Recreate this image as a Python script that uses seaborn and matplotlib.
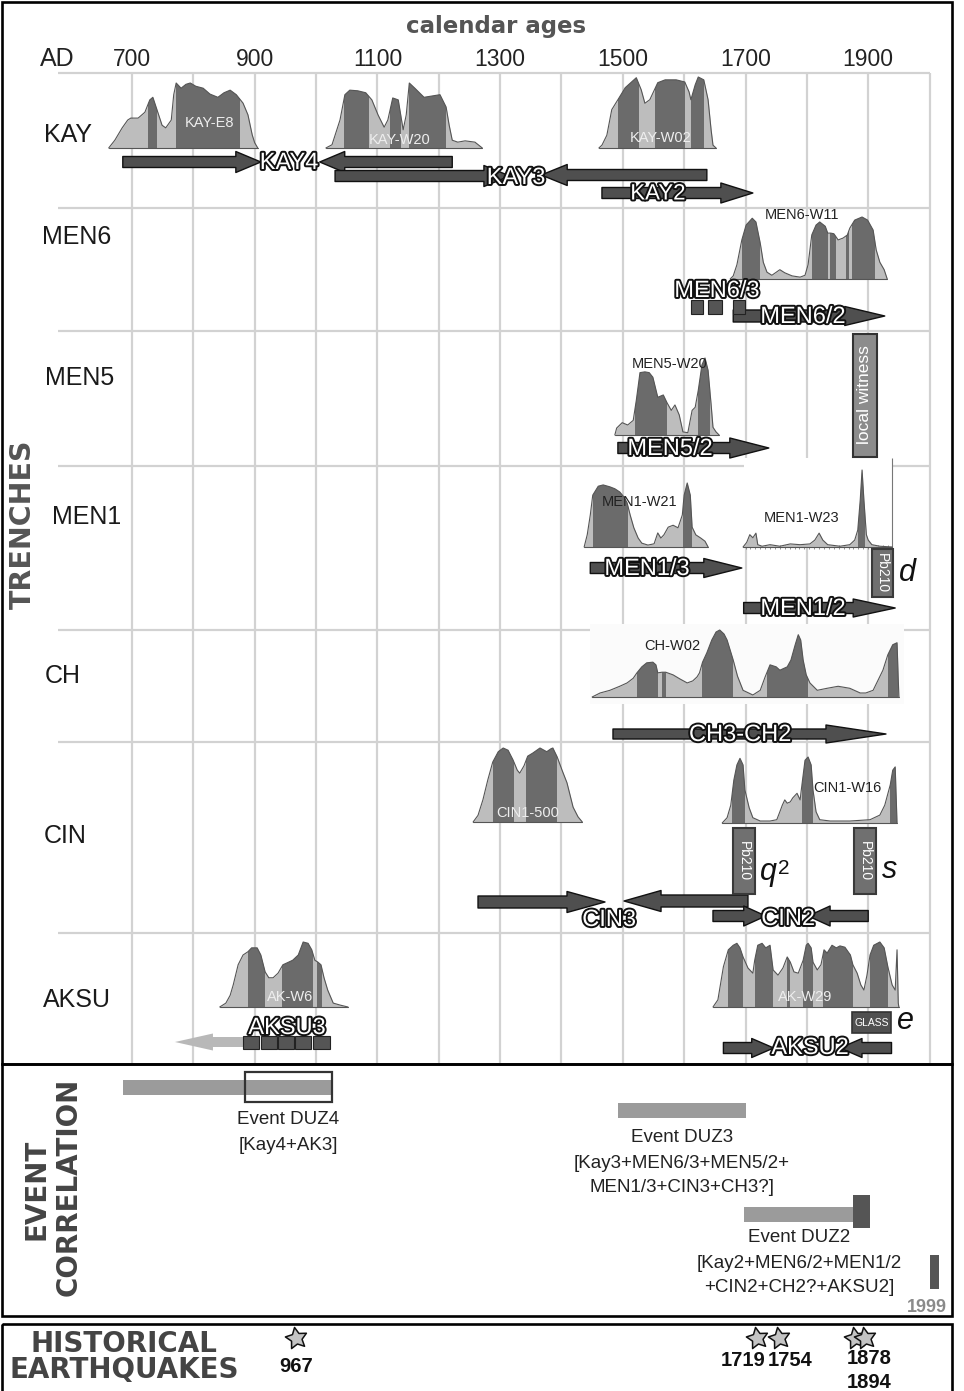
import numpy as np
import matplotlib
matplotlib.use("Agg")
import matplotlib.pyplot as plt
import matplotlib.patheffects as pe
from matplotlib.patches import Rectangle
import seaborn as sns

sns.set_theme(style="white")
plt.rcParams["font.family"] = ["Liberation Sans", "DejaVu Sans"]

# ------------------------------------------------------------------ data
tick_years = [700, 900, 1100, 1300, 1500, 1700, 1900]
grid_years = list(range(700, 2001, 100))
trench_names = ["KAY", "MEN6", "MEN5", "MEN1", "CH", "CIN", "AKSU"]

# calibrated radiocarbon ages: calendar year AD, relative probability (%), 1-sigma ranges
kay_e8_years = [662, 672, 684, 693, 698, 710, 721, 729, 734, 741, 749, 755, 764, 768, 772,
                780, 788, 795, 804, 816, 827, 840, 850, 860, 870, 881, 889, 896, 900, 905]
kay_e8_prob = [0, 12, 31, 43, 46, 46, 55, 74, 78, 58, 35, 31, 43, 82, 100,
               92, 98, 100, 95, 92, 83, 78, 85, 89, 82, 69, 51, 20, 8, 0]
kay_e8_sigma = [(726, 741), (772, 876)]

kay_w20_years = [1016, 1026, 1039, 1047, 1055, 1068, 1081, 1091, 1101, 1111, 1117, 1125, 1134, 1142,
                 1147, 1152, 1161, 1176, 1189, 1202, 1212, 1217, 1222, 1231, 1243, 1259, 1271]
kay_w20_prob = [0, 5, 43, 82, 89, 88, 85, 74, 51, 32, 43, 77, 74, 28,
                51, 100, 92, 78, 80, 82, 63, 35, 12, 9, 11, 9, 0]
kay_w20_sigma = [(1046, 1086), (1121, 1138), (1152, 1212)]

kay_w02_years = [1461, 1466, 1474, 1482, 1492, 1504, 1522, 1530, 1536, 1544, 1557, 1569,
                 1587, 1601, 1608, 1611, 1618, 1623, 1632, 1639, 1644, 1647, 1652]
kay_w02_prob = [0, 4, 18, 54, 68, 85, 99, 82, 63, 68, 92, 96,
                96, 93, 79, 68, 89, 100, 96, 68, 25, 4, 0]
kay_w02_sigma = [(1492, 1526), (1552, 1601), (1611, 1632)]

men6_w11_years = [1675, 1680, 1686, 1694, 1701, 1711, 1717, 1724, 1729, 1735, 1743, 1756,
                  1764, 1776, 1789, 1797, 1802, 1808, 1815, 1821, 1830, 1834, 1839, 1844,
                  1851, 1859, 1866, 1870, 1878, 1890, 1899, 1908, 1913, 1919, 1926, 1931]
men6_w11_prob = [0, 5, 23, 63, 87, 98, 92, 58, 27, 11, 6, 15,
                 10, 5, 3, 6, 23, 71, 87, 92, 85, 74, 74, 73,
                 63, 66, 71, 82, 95, 100, 95, 79, 47, 27, 15, 0]
men6_w11_sigma = [(1694, 1724), (1808, 1834), (1838, 1848), (1864, 1869), (1874, 1911)]

men5_w20_years = [1487, 1490, 1499, 1508, 1517, 1522, 1528, 1536, 1543, 1549, 1557, 1566, 1572, 1579,
                  1585, 1592, 1598, 1606, 1613, 1618, 1623, 1629, 1634, 1639, 1644, 1647, 1652, 1657]
men5_w20_prob = [0, 9, 16, 13, 19, 45, 81, 82, 81, 75, 49, 52, 42, 32,
                 39, 26, 4, 3, 32, 36, 58, 91, 100, 84, 39, 10, 4, 0]
men5_w20_sigma = [(1520, 1572), (1623, 1642)]

men1_w21_years = [1437, 1442, 1447, 1451, 1460, 1468, 1479, 1487, 1495, 1502, 1507, 1512, 1518, 1525,
                  1531, 1541, 1551, 1557, 1562, 1567, 1574, 1582, 1590, 1597, 1600, 1605, 1610, 1613,
                  1619, 1627, 1634, 1639]
men1_w21_prob = [0, 19, 50, 81, 95, 97, 94, 91, 86, 78, 69, 50, 30, 14,
                 6, 3, 5, 22, 14, 19, 31, 34, 30, 50, 81, 100, 81, 31,
                 19, 14, 9, 0]
men1_w21_sigma = [(1451, 1508), (1598, 1613)]

men1_w23_years = [1696, 1702, 1707, 1712, 1717, 1720, 1727, 1740, 1756, 1773, 1789, 1805, 1813, 1820,
                  1826, 1834, 1854, 1870, 1878, 1883, 1887, 1890, 1893, 1897, 1900, 1906, 1919, 1939]
men1_w23_prob = [0, 6, 16, 12, 18, 3, 1, 3, 1, 4, 3, 4, 9, 18,
                 9, 3, 1, 3, 9, 22, 61, 100, 61, 16, 9, 3, 1, 0]
men1_w23_sigma = [(1884, 1895)]

ch_w02_years = [1450, 1463, 1479, 1495, 1507, 1517, 1523, 1531, 1539, 1549, 1554, 1557, 1564, 1570,
                1582, 1593, 1605, 1614, 1621, 1625, 1630, 1637, 1645, 1652, 1658, 1665, 1670, 1675,
                1680, 1687, 1696, 1712, 1724, 1732, 1740, 1750, 1756, 1768, 1774, 1781, 1786, 1790,
                1794, 1799, 1805, 1817, 1833, 1851, 1870, 1887, 1896, 1908, 1916, 1924, 1932, 1940,
                1947, 1950]
ch_w02_prob = [0, 6, 10, 16, 21, 28, 36, 45, 51, 52, 48, 36, 37, 37,
               33, 27, 21, 24, 30, 36, 52, 66, 85, 97, 100, 94, 85, 70,
               55, 31, 10, 3, 10, 30, 48, 45, 40, 45, 55, 78, 93, 85,
               55, 33, 21, 10, 13, 16, 13, 6, 6, 10, 25, 40, 63, 78,
               81, 0]
ch_w02_sigma = [(1523, 1557), (1564, 1570), (1629, 1680), (1735, 1802), (1932, 1949)]

cin1_500_years = [1256, 1264, 1272, 1280, 1288, 1297, 1305, 1313, 1321, 1328, 1332, 1339,
                  1345, 1353, 1365, 1376, 1383, 1386, 1393, 1401, 1409, 1419, 1427, 1434]
cin1_500_prob = [0, 9, 30, 57, 81, 95, 100, 97, 84, 70, 66, 76,
                 89, 93, 100, 95, 99, 100, 88, 70, 53, 20, 7, 0]
cin1_500_sigma = [(1288, 1323), (1342, 1393)]

cin1_w16_years = [1662, 1670, 1676, 1681, 1686, 1691, 1696, 1699, 1706, 1712, 1724, 1740, 1751,
                  1756, 1760, 1764, 1768, 1773, 1777, 1784, 1789, 1792, 1797, 1802, 1807, 1810,
                  1815, 1821, 1838, 1870, 1903, 1919, 1927, 1936, 1940, 1944, 1947]
cin1_w16_prob = [0, 8, 27, 65, 88, 98, 88, 50, 23, 8, 3, 3, 5,
                 17, 27, 35, 30, 32, 38, 45, 35, 58, 95, 100, 88, 50,
                 17, 5, 3, 3, 5, 12, 27, 58, 80, 85, 0]
cin1_w16_sigma = [(1678, 1699), (1792, 1810), (1936, 1947)]

ak_w6_years = [843, 853, 860, 865, 873, 881, 889, 895, 904, 910, 917, 923, 930, 938, 946,
               953, 962, 971, 979, 987, 993, 998, 1003, 1008, 1013, 1019, 1028, 1039, 1052]
ak_w6_prob = [0, 6, 18, 34, 65, 80, 85, 91, 91, 80, 54, 45, 45, 52, 65,
              68, 72, 80, 100, 98, 88, 72, 69, 65, 45, 26, 6, 3, 0]
ak_w6_sigma = [(889, 917), (945, 995), (1002, 1010)]

ak_w29_years = [1647, 1655, 1664, 1672, 1680, 1686, 1691, 1696, 1704, 1712, 1715, 1720, 1727,
                1733, 1740, 1745, 1753, 1761, 1768, 1773, 1779, 1786, 1794, 1799, 1802, 1807,
                1810, 1817, 1823, 1828, 1833, 1841, 1848, 1854, 1862, 1871, 1875, 1882, 1888,
                1893, 1898, 1903, 1909, 1919, 1926, 1932, 1939, 1944, 1947, 1949, 1950]
ak_w29_prob = [0, 11, 62, 88, 95, 98, 91, 77, 60, 52, 72, 95, 98,
               91, 95, 57, 49, 60, 77, 69, 54, 52, 72, 95, 98, 91,
               69, 57, 65, 88, 83, 95, 91, 94, 92, 80, 65, 52, 34,
               26, 49, 80, 95, 100, 91, 62, 34, 26, 88, 6, 0]
ak_w29_sigma = [(1672, 1696), (1715, 1745), (1768, 1773), (1794, 1810), (1826, 1875), (1903, 1932)]

# colluvial-wedge / event-horizon age brackets (arrow tail year -> arrow tip year)
unit_names = ["KAY4", "KAY4", "KAY3", "KAY3", "KAY2", "MEN6/2", "MEN5/2", "MEN1/3", "MEN1/2",
              "CH3-CH2", "CIN3", "CIN3", "CIN2", "CIN2", "AKSU2", "AKSU2"]
unit_from = [685, 1222, 1031, 1637, 1466, 1680, 1492, 1447, 1697, 1484, 1264, 1704, 1647, 1900, 1664, 1938]
unit_to = [910, 1006, 1316, 1367, 1712, 1927, 1738, 1694, 1944, 1929, 1471, 1502, 1733, 1802, 1746, 1854]

men6_3_from = [1611, 1639, 1680]
men6_3_to = [1631, 1662, 1699]
aksu3_from = [881, 910, 938, 966, 995]
aksu3_to = [907, 936, 964, 992, 1022]
aksu3_open = (881, 770)

pb210_from = [1906, 1680, 1877]
pb210_to = [1940, 1716, 1913]
pb210_tags = ["d", "q", "s"]
witness_years = (1875, 1914)
glass_years = (1873, 1937)

event_names = ["DUZ4", "DUZ3", "DUZ2"]
event_from = [685, 1492, 1697]
event_to = [1026, 1701, 1877]
event_lines = [["Event DUZ4", "[Kay4+AK3]"],
               ["Event DUZ3", "[Kay3+MEN6/3+MEN5/2+", "MEN1/3+CIN3+CH3?]"],
               ["Event DUZ2", "[Kay2+MEN6/2+MEN1/2", "+CIN2+CH2?+AKSU2]"]]
duz4_box = (884, 1026)
duz2_limit = (1875, 1903)
event_1999 = 1999

quake_years = [967, 1719, 1754, 1878, 1894]

# ------------------------------------------------------------------ style / layout
LIGHT = "#bdbdbd"
DARK = "#6b6b6b"
EDGE = "#555555"
GRID = "#d2d2d2"
ARROW = "#4f4f4f"


def yr(px):
    """Horizontal pixel column of the sheet -> calendar year."""
    return 700 + (px - 132) / 0.6135


fig = plt.figure(figsize=(9.64, 13.91), dpi=100)
ax = fig.add_axes([0, 0, 1, 1])
ax.set_xlim(yr(0), yr(964))
ax.set_ylim(1391, 0)
ax.axis("off")

# grid of the trench panel
ax.vlines(grid_years, 73, 1063, colors=GRID, lw=1.6, zorder=1)
ax.hlines([73, 208, 331, 466, 630, 742, 933], yr(58), 2000, colors=GRID, lw=1.6, zorder=1)
# plot frames that hide the grid
ax.add_patch(Rectangle((yr(590), 624), yr(904) - yr(590), 80, fc="#fbfbfb", ec="none", zorder=2))
ax.add_patch(Rectangle((yr(744), 458), yr(892) - yr(744), 89, fc="white", ec="none", zorder=2))
ax.vlines(yr(892), 458, 547, colors="#777777", lw=0.8, zorder=3)
ax.vlines(np.arange(1700, 1940, 8), 545, 549, colors="#666666", lw=0.5, zorder=3)


def density(years, prob, sigma, base, height, label, lx, ly, lcolor):
    yrs = np.asarray(years, float)
    top = base - np.asarray(prob, float) / 100.0 * height
    light = ax.fill_between(yrs, base, top, color=LIGHT, lw=0, zorder=3)
    clip = light.get_paths()[0]
    for a, b in sigma:
        span = ax.axvspan(a, b, color=DARK, lw=0, zorder=3.1)
        span.set_clip_path(clip, ax.transData)
    sns.lineplot(x=yrs, y=top, ax=ax, color=EDGE, lw=0.8, sort=False,
                 estimator=None, legend=False, zorder=3.2)
    ax.plot([yrs[0], yrs[-1]], [base, base], color=EDGE, lw=0.8, zorder=3.2)
    ax.text(yr(lx), ly, label, ha="center", va="center", fontsize=10.5,
            color=lcolor, zorder=4)


density(kay_e8_years, kay_e8_prob, kay_e8_sigma, 148, 65, "KAY-E8", 209, 123, "#eeeeee")
density(kay_w20_years, kay_w20_prob, kay_w20_sigma, 148, 65, "KAY-W20", 400, 140, "#eeeeee")
density(kay_w02_years, kay_w02_prob, kay_w02_sigma, 148, 71, "KAY-W02", 661, 138, "#eeeeee")
density(men6_w11_years, men6_w11_prob, men6_w11_sigma, 279, 62, "MEN6-W11", 802, 215, "#222222")
density(men5_w20_years, men5_w20_prob, men5_w20_sigma, 435, 77, "MEN5-W20", 670, 364, "#222222")
density(men1_w21_years, men1_w21_prob, men1_w21_sigma, 547, 64, "MEN1-W21", 640, 502, "#222222")
density(men1_w23_years, men1_w23_prob, men1_w23_sigma, 547, 77, "MEN1-W23", 802, 518, "#222222")
density(ch_w02_years, ch_w02_prob, ch_w02_sigma, 697, 67, "CH-W02", 672, 646, "#222222")
density(cin1_500_years, cin1_500_prob, cin1_500_sigma, 822, 74, "CIN1-500", 528, 813, "#eeeeee")
density(cin1_w16_years, cin1_w16_prob, cin1_w16_sigma, 823, 66, "CIN1-W16", 847, 788, "#222222")
density(ak_w6_years, ak_w6_prob, ak_w6_sigma, 1007, 65, "AK-W6", 290, 997, "#eeeeee")
density(ak_w29_years, ak_w29_prob, ak_w29_sigma, 1007, 65, "AK-W29", 805, 997, "#eeeeee")

# ---- unit arrows
arrow_y = [162, 162, 176, 175, 193, 316, 448, 568, 608, 734, 902, 901, 916, 916, 1048, 1048]
arrow_head = [25, 25, 26, 26, 32, 40, 39, 38, 42, 60, 38, 37, 22, 22, 22, 22]
arrow_hw = [21, 21, 21, 21, 20, 19, 20, 19, 18, 18, 21, 21, 20, 20, 19, 19]
arrow_tw = [11, 11, 11, 11, 11, 12, 11, 11, 11, 10, 12, 12, 11, 11, 11, 11]


def block_arrow(x0, x1, y, hl, hw, tw, fc=ARROW, ec="#111111", lw=1.0, z=5):
    ax.annotate("", xy=(x1, y), xytext=(x0, y),
                arrowprops=dict(arrowstyle=f"simple,head_length={hl},head_width={hw},tail_width={tw}",
                                mutation_scale=0.72, fc=fc, ec=ec, lw=lw, shrinkA=0, shrinkB=0),
                zorder=z)


for x0, x1, y, hl, hw, tw in zip(unit_from, unit_to, arrow_y, arrow_head, arrow_hw, arrow_tw):
    block_arrow(x0, x1, y, hl, hw, tw)

# uncertain brackets drawn as chains of blocks
for a, b in zip(men6_3_from, men6_3_to):
    ax.add_patch(Rectangle((a, 300), b - a, 14, fc="#555555", ec="#222222", lw=0.8, zorder=5))
block_arrow(aksu3_open[0], aksu3_open[1], 1042, 38, 17, 10, fc="#b8b8b8", ec="none", lw=0, z=4)
for a, b in zip(aksu3_from, aksu3_to):
    ax.add_patch(Rectangle((a, 1036), b - a, 13, fc="#555555", ec="#222222", lw=0.8, zorder=5))

outline = [pe.withStroke(linewidth=2.8, foreground="#111111")]
unit_labels = [("KAY4", 289, 163, 17), ("KAY3", 516, 178, 17), ("KAY2", 658, 194, 16),
               ("MEN6/3", 717, 291, 17), ("MEN6/2", 803, 317, 17), ("MEN5/2", 670, 449, 17),
               ("MEN1/3", 647, 569, 17), ("MEN1/2", 803, 609, 17), ("CH3-CH2", 740, 735, 17),
               ("CIN3", 609, 920, 17), ("CIN2", 788, 919, 17), ("AKSU3", 287, 1028, 17),
               ("AKSU2", 810, 1048, 17)]
for s, x, y, fs in unit_labels:
    ax.text(yr(x), y, s, ha="center", va="center", fontsize=fs, color="white",
            path_effects=outline, zorder=6)

# ---- dated boxes
pb_rows = [(549, 597), (828, 894), (828, 894)]
for (a, b), (t, btm), tag in zip(zip(pb210_from, pb210_to), pb_rows, pb210_tags):
    ax.add_patch(Rectangle((a, t), b - a, btm - t, fc="#707070", ec="#3a3a3a", lw=1.5, zorder=5))
    ax.text((a + b) / 2, (t + btm) / 2, "Pb210", rotation=-90, ha="center", va="center",
            fontsize=10, color="white", zorder=6)
ax.text(yr(907), 573, "d", fontsize=22, style="italic", ha="center", va="center", color="#111111")
ax.text(yr(768), 872, "q", fontsize=22, style="italic", ha="center", va="center", color="#111111")
ax.text(yr(784), 869, "2", fontsize=15, ha="center", va="center", color="#111111")
ax.text(yr(890), 870, "s", fontsize=22, style="italic", ha="center", va="center", color="#111111")

a, b = witness_years
ax.add_patch(Rectangle((a, 334), b - a, 123, fc="#8c8c8c", ec="#333333", lw=1.5, zorder=5))
ax.text((a + b) / 2, 395, "local witness", rotation=90, ha="center", va="center",
        fontsize=12.5, color="white", zorder=6)

a, b = glass_years
ax.add_patch(Rectangle((a, 1012), b - a, 21, fc="#505050", ec="#333333", lw=1.2, zorder=5))
ax.text((a + b) / 2, 1023, "GLASS", ha="center", va="center", fontsize=7.5, color="white", zorder=6)
ax.text(yr(905), 1021, "e", fontsize=22, style="italic", ha="center", va="center", color="#111111")

# ---- axis labels
ax.text(yr(496), 27, "calendar ages", ha="center", va="center", fontsize=16.5,
        fontweight="bold", color="#555555", family="DejaVu Sans")
ax.text(yr(57), 59, "AD", ha="center", va="center", fontsize=18, color="#222222")
for t in tick_years:
    ax.text(t, 59, str(t), ha="center", va="center", fontsize=16.5, color="#222222")

row_pos = [(44, 135), (42, 237), (45, 378), (52, 517), (45, 676), (44, 836), (43, 1000)]
for name, (x, y) in zip(trench_names, row_pos):
    ax.text(yr(x), y, name, ha="left", va="center", fontsize=18, color="#1a1a1a")

ax.text(yr(23), 524, "TRENCHES", rotation=90, ha="center", va="center", fontsize=20.5,
        fontweight="bold", color="#555555", family="DejaVu Sans")

# ---- event correlation panel
event_y = [1087, 1110, 1214]
for a, b, y in zip(event_from, event_to, event_y):
    ax.barh(y, b - a, left=a, height=15, color="#9b9b9b", lw=0, zorder=3)
ax.add_patch(Rectangle((duz4_box[0], 1072), duz4_box[1] - duz4_box[0], 30,
                       fill=False, ec="#333333", lw=1.6, zorder=4))
ax.add_patch(Rectangle((duz2_limit[0], 1195), duz2_limit[1] - duz2_limit[0], 33,
                       fc="#555555", ec="none", zorder=4))
ax.add_patch(Rectangle((event_1999 + 2, 1255), 15, 34, fc="#555555", ec="none", zorder=4))
ax.text(yr(927), 1307, str(event_1999), ha="center", va="center", fontsize=13,
        fontweight="bold", color="#8a8a8a")

text_pos = [(288, [1120, 1145]), (682, [1138, 1163, 1188]), (799, [1238, 1263, 1288])]
for lines, (x, ys) in zip(event_lines, text_pos):
    for s, y in zip(lines, ys):
        ax.text(yr(x), y, s, ha="center", va="center", fontsize=13.5, color="#222222")

ax.text(yr(36), 1189, "EVENT", rotation=90, ha="center", va="center", fontsize=20,
        fontweight="bold", color="#444444", family="DejaVu Sans")
ax.text(yr(69), 1187, "CORRELATION", rotation=90, ha="center", va="center", fontsize=20,
        fontweight="bold", color="#444444", family="DejaVu Sans")

# ---- historical earthquakes
sns.scatterplot(x=quake_years, y=[1338] * len(quake_years), ax=ax, marker=(5, 1, 10), s=260,
                color="#c4c4c4", edgecolor="#111111", linewidth=1.1, legend=False, zorder=6)
quake_labels = [("967", 296, 1367), ("1719", 743, 1360), ("1754", 790, 1360),
                ("1878", 869, 1359), ("1894", 869, 1382)]
for s, x, y in quake_labels:
    ax.text(yr(x), y, s, ha="center", va="center", fontsize=14.5, fontweight="bold", color="#111111")
ax.text(yr(124), 1357, "HISTORICAL\nEARTHQUAKES", ha="center", va="center", fontsize=20,
        multialignment="center", linespacing=0.88,
        fontweight="bold", color="#444444", family="DejaVu Sans")

# ---- panel frames
w = yr(952) - yr(1.5)
for top, h in [(1.5, 1062.5), (1064, 252), (1324, 90)]:
    ax.add_patch(Rectangle((yr(1.5), top), w, h, fill=False, ec="black", lw=1.9, zorder=10,
                           clip_on=False))

ax.set_xlim(yr(0), yr(964))
ax.set_ylim(1391, 0)
fig.savefig("out.png", dpi=100)
